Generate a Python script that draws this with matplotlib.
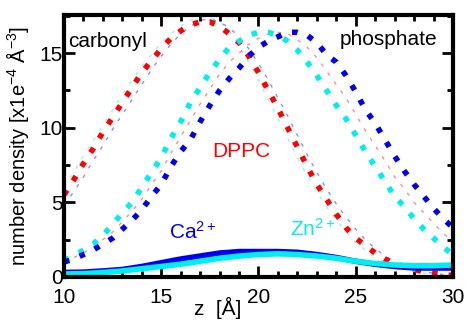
import numpy as np
import matplotlib
matplotlib.use("Agg")
from matplotlib import pyplot as plt
from matplotlib.ticker import MultipleLocator

# z grid [A]
z = np.arange(10, 30.01, 0.5)

# carbonyl densities
carb_dppc = [5.5, 6.5, 7.6, 8.6, 9.7, 10.7, 11.7, 12.7, 13.7, 14.5, 15.3, 16.0, 16.5, 16.9,
             17.1, 17.1, 16.8, 16.3, 15.7, 14.8, 13.7, 12.5, 11.3, 10.0, 8.7, 7.4, 6.2, 5.2,
             4.2, 3.3, 2.6, 2.1, 1.6, 1.2, 0.9, 0.7, 0.5, 0.35, 0.25, 0.15, 0.1]
carb_ca = [4.8, 5.7, 6.7, 7.8, 8.8, 9.9, 10.9, 11.9, 12.9, 13.9, 14.8, 15.6, 16.3, 16.8,
           17.2, 17.3, 17.1, 16.7, 16.1, 15.3, 14.3, 13.2, 12.0, 10.8, 9.5, 8.2, 7.0, 5.9,
           4.9, 4.0, 3.2, 2.5, 1.9, 1.4, 1.0, 0.7, 0.5, 0.35, 0.25, 0.15, 0.1]
carb_zn = [6.0, 7.0, 8.1, 9.1, 10.2, 11.2, 12.2, 13.2, 14.1, 14.9, 15.7, 16.3, 16.8, 17.2,
           17.4, 17.4, 17.1, 16.5, 15.5, 14.4, 13.2, 11.9, 10.6, 9.3, 8.0, 6.8, 5.7, 4.7,
           3.8, 3.0, 2.3, 1.8, 1.3, 1.0, 0.7, 0.5, 0.35, 0.25, 0.15, 0.1, 0.05]

# phosphate densities
phos_dppc = [1.0, 1.3, 1.6, 2.0, 2.5, 3.0, 3.7, 4.4, 5.2, 6.2, 7.1, 8.3, 9.4, 10.5,
             11.6, 12.6, 13.6, 14.4, 15.0, 15.6, 16.0, 16.3, 16.4, 16.3, 15.9, 15.4, 14.7, 13.8,
             12.9, 12.0, 10.9, 9.8, 8.8, 7.8, 6.7, 5.9, 5.0, 4.3, 3.6, 2.9, 2.4]
phos_ca = [1.0, 1.2, 1.5, 1.8, 2.2, 2.6, 3.2, 3.8, 4.5, 5.4, 6.2, 7.4, 8.4, 9.2,
           10.4, 11.5, 12.5, 13.3, 14.0, 14.8, 15.4, 15.8, 16.1, 16.4, 16.4, 16.2, 15.7, 14.9,
           14.4, 13.5, 12.4, 11.2, 10.3, 9.2, 8.1, 7.1, 6.2, 5.4, 4.6, 3.9, 3.3]
phos_zn = [1.1, 1.4, 1.8, 2.2, 2.8, 3.5, 4.3, 5.0, 6.0, 7.0, 8.0, 9.3, 10.4, 11.7,
           12.7, 13.7, 14.6, 15.4, 15.8, 16.2, 16.4, 16.4, 16.2, 15.8, 15.2, 14.4, 13.5, 12.5,
           11.5, 10.6, 9.5, 8.4, 7.4, 6.4, 5.4, 4.7, 3.9, 3.2, 2.6, 2.0, 1.5]

# ion densities (1 A grid)
z_ion = np.arange(10, 31, 1)
ion_ca = [0.3, 0.32, 0.4, 0.5, 0.7, 0.95, 1.2, 1.4, 1.6, 1.7, 1.7, 1.7, 1.65, 1.5,
          1.3, 1.05, 0.85, 0.7, 0.6, 0.6, 0.6]
ion_zn = [0.2, 0.22, 0.3, 0.4, 0.55, 0.7, 0.85, 1.05, 1.25, 1.4, 1.5, 1.55, 1.5, 1.4,
          1.25, 1.05, 0.9, 0.8, 0.75, 0.75, 0.8]

RED = "#ff0000"
BLUE = "#0000ee"
CYAN = "#00eeee"

plt.rcParams['font.family'] = ['Liberation Sans', 'DejaVu Sans']
plt.rcParams['mathtext.fontset'] = 'custom'
plt.rcParams['mathtext.rm'] = 'Liberation Sans'
plt.rcParams['mathtext.it'] = 'Liberation Sans'
plt.rcParams['mathtext.default'] = 'regular'

fig = plt.figure(figsize=(4.67, 3.22), dpi=100)
ax = fig.add_axes([0.137, 0.140, 0.833, 0.813])

thick = dict(lw=4, linestyle=(0, (1, 2)), dash_capstyle='butt')
thin = dict(lw=1, linestyle=(0, (2.5, 5.5)), alpha=0.45)

# thin dotted lines
ax.plot(z, carb_ca, color=BLUE, **thin)
ax.plot(z, carb_zn, color=CYAN, **thin)
ax.plot(z, phos_dppc, color=RED, **thin)

# thick dotted lines
ax.plot(z, carb_dppc, color=RED, **thick)
ax.plot(z, phos_zn, color=CYAN, **thick)
ax.plot(z, phos_ca, color=BLUE, **thick)

# ions
ax.plot(z_ion, ion_ca, color=BLUE, lw=4)
ax.plot(z_ion, ion_zn, color=CYAN, lw=4)

ax.set_xlim(10, 30)
ax.set_ylim(0, 17.55)
ax.xaxis.set_major_locator(MultipleLocator(5))
ax.xaxis.set_minor_locator(MultipleLocator(1))
ax.yaxis.set_major_locator(MultipleLocator(5))
ax.yaxis.set_minor_locator(MultipleLocator(2.5))
ax.tick_params(which='both', direction='in', top=True, right=True, width=2, labelsize=15)
ax.tick_params(which='major', length=8)
ax.tick_params(which='minor', length=4)
ax.tick_params(axis='x', pad=8)
ax.tick_params(axis='y', pad=1)
for s in ax.spines.values():
    s.set_linewidth(3)

ax.set_ylabel(r"number density [x1e$^{-4}$ Å$^{-3}$]", fontsize=14.5, labelpad=0)
ax.yaxis.set_label_coords(-0.085, 0.5)
ax.set_xlabel("z  [Å]", fontsize=15, va='top')
ax.xaxis.set_label_coords(0.395, -0.075)

# annotations
ax.text(10.2, 15.8, "carbonyl", fontsize=15, va='center', ha='left')
ax.text(29.2, 15.9, "phosphate", fontsize=15, va='center', ha='right')
ax.text(19.1, 8.4, "DPPC", fontsize=15, va='center', ha='center', color=RED)
ax.text(15.4, 3.0, r"Ca$^{2+}$", fontsize=15, va='center', ha='left', color=BLUE)
ax.text(21.6, 3.2, r"Zn$^{2+}$", fontsize=15, va='center', ha='left', color=CYAN)

fig.savefig("out.png", dpi=100)
